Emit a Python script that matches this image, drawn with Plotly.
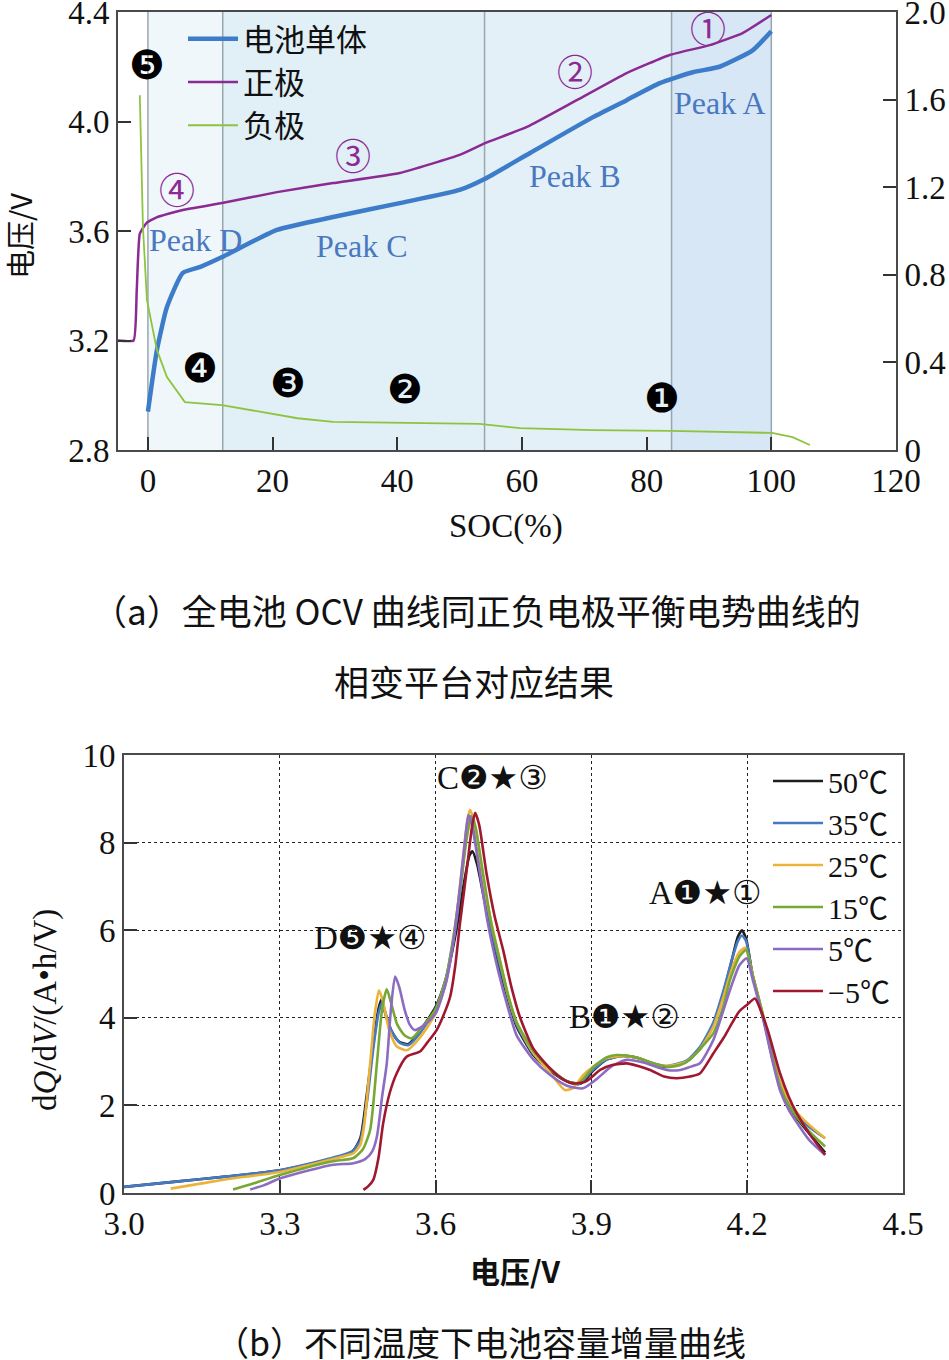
import plotly.graph_objects as go

# ---------------- (a) OCV vs SOC ----------------
soc_cell = [0, 1.44, 3.05, 5.6, 8.3, 11.9, 20.7, 29.7, 40.4, 50, 54, 61.3, 71.4, 76.8, 82.1, 87.4, 91.7, 97, 100]
v_cell = [2.94, 3.165, 3.322, 3.447, 3.468, 3.505, 3.604, 3.651, 3.702, 3.75, 3.79, 3.885, 4.016, 4.078, 4.14, 4.18, 4.2, 4.26, 4.33]

soc_pos = [-4.8, -2.3, -1.8, -1.3, -0.2, 1.4, 5.6, 11.9, 20.7, 29.7, 40.4, 50, 54, 60.8, 68.8, 76.8, 83.7, 90.1, 95.4, 100]
v_pos = [3.2, 3.2, 3.38, 3.59, 3.63, 3.65, 3.677, 3.702, 3.742, 3.775, 3.812, 3.878, 3.92, 3.98, 4.078, 4.177, 4.243, 4.279, 4.323, 4.389]

soc_neg = [-1.3, -0.96, -0.8, -0.16, 1.44, 3.05, 5.93, 11.87, 20.7, 24, 29.7, 40.4, 53.2, 59.7, 71.4, 83.7, 100.1, 103.4, 106.2]
v_neg = [1.62, 1.29, 1.02, 0.685, 0.457, 0.333, 0.219, 0.205, 0.16, 0.145, 0.128, 0.123, 0.119, 0.1, 0.091, 0.087, 0.078, 0.059, 0.023]

band_edges = [0, 12, 54, 84, 100]
band_colors = ["#eff7fb", "#e1eff7", "#e3f0f8", "#d7e7f6"]

x_ticks_a = [0, 20, 40, 60, 80, 100, 120]
y_ticks_a = [2.8, 3.2, 3.6, 4.0, 4.4]
y_ticklabels_a = ["2.8", "3.2", "3.6", "4.0", "4.4"]
y2_ticks_a = [0, 0.4, 0.8, 1.2, 1.6, 2.0]
y2_ticklabels_a = ["0", "0.4", "0.8", "1.2", "1.6", "2.0"]

# black filled markers (negative electrode stages)
neg_marks = ["❺", "❹", "❸", "❷", "❶"]
neg_mark_x = [-0.2, 8.3, 22.5, 41.2, 82.4]
neg_mark_y = [4.206, 3.10, 3.045, 3.023, 2.99]
# purple circled markers (positive electrode stages)
pos_marks = ["①", "②", "③", "④"]
pos_mark_x = [89.8, 68.5, 32.9, 4.65]
pos_mark_y = [4.345, 4.188, 3.881, 3.757]
# peak labels
peak_labels = ["Peak A", "Peak B", "Peak C", "Peak D"]
peak_x = [91.7, 68.5, 34.3, 7.6]
peak_y = [4.068, 3.80, 3.545, 3.567]

# ---------------- (b) dQ/dV vs V ----------------
temps = ["50℃", "35℃", "25℃", "15℃", "5℃", "−5℃"]
temp_colors = ["#1e1e1e", "#4479c4", "#ebb33a", "#78a834", "#8c6cc2", "#a01830"]

v_50 = [3.00, 3.10, 3.20, 3.30, 3.40, 3.44, 3.455, 3.467, 3.480, 3.490, 3.496, 3.503, 3.515, 3.530, 3.548, 3.570, 3.600, 3.620, 3.640, 3.655, 3.665, 3.671, 3.680, 3.692, 3.708, 3.724, 3.740, 3.756, 3.788, 3.820, 3.853, 3.880, 3.904, 3.930, 3.960, 3.990, 4.020, 4.045, 4.083, 4.110, 4.135, 4.155, 4.170, 4.182, 4.190, 4.198, 4.210, 4.231, 4.250, 4.263, 4.280, 4.295, 4.320, 4.350]
q_50 = [0.14, 0.26, 0.38, 0.52, 0.78, 0.95, 1.25, 2.2, 3.4, 4.2, 4.42, 4.1, 3.7, 3.45, 3.40, 3.7, 4.25, 4.9, 6.0, 7.1, 7.7, 7.8, 7.5, 6.8, 5.9, 5.1, 4.4, 3.8, 3.15, 2.80, 2.55, 2.50, 2.80, 3.05, 3.13, 3.08, 2.95, 2.88, 3.00, 3.30, 3.85, 4.60, 5.30, 5.85, 6.00, 5.80, 5.00, 4.00, 3.00, 2.45, 2.00, 1.72, 1.35, 0.92]

v_35 = [3.00, 3.10, 3.20, 3.30, 3.40, 3.44, 3.455, 3.468, 3.480, 3.490, 3.497, 3.505, 3.517, 3.532, 3.548, 3.570, 3.600, 3.620, 3.640, 3.652, 3.660, 3.667, 3.675, 3.690, 3.708, 3.724, 3.740, 3.756, 3.788, 3.820, 3.853, 3.875, 3.900, 3.930, 3.960, 3.990, 4.020, 4.045, 4.083, 4.110, 4.135, 4.155, 4.170, 4.182, 4.190, 4.198, 4.210, 4.231, 4.250, 4.263, 4.280, 4.295, 4.320, 4.350]
q_35 = [0.14, 0.26, 0.38, 0.52, 0.80, 0.96, 1.2, 2.1, 3.3, 4.1, 4.35, 4.05, 3.65, 3.42, 3.38, 3.65, 4.2, 4.9, 6.2, 7.4, 8.3, 8.6, 8.3, 7.2, 6.0, 5.2, 4.45, 3.85, 3.18, 2.82, 2.55, 2.48, 2.78, 3.05, 3.13, 3.08, 2.95, 2.90, 3.02, 3.35, 3.90, 4.65, 5.30, 5.75, 5.88, 5.75, 5.00, 4.02, 3.05, 2.50, 2.07, 1.80, 1.50, 1.25]

v_25 = [3.09, 3.15, 3.20, 3.30, 3.40, 3.442, 3.455, 3.462, 3.474, 3.483, 3.491, 3.498, 3.510, 3.525, 3.545, 3.570, 3.600, 3.620, 3.634, 3.645, 3.653, 3.660, 3.666, 3.674, 3.685, 3.700, 3.724, 3.740, 3.756, 3.788, 3.820, 3.849, 3.865, 3.885, 3.905, 3.930, 3.960, 3.990, 4.020, 4.045, 4.083, 4.110, 4.135, 4.155, 4.170, 4.185, 4.196, 4.210, 4.231, 4.250, 4.263, 4.280, 4.295, 4.320, 4.350]
q_25 = [0.10, 0.22, 0.32, 0.48, 0.77, 0.91, 1.1, 1.5, 2.96, 4.1, 4.63, 4.4, 3.75, 3.35, 3.26, 3.55, 4.1, 4.8, 5.78, 6.8, 7.68, 8.4, 8.75, 8.5, 7.7, 6.6, 5.3, 4.5, 3.9, 3.2, 2.75, 2.35, 2.40, 2.70, 2.90, 3.08, 3.13, 3.08, 2.95, 2.90, 3.00, 3.30, 3.80, 4.50, 5.10, 5.50, 5.60, 5.00, 4.05, 3.10, 2.55, 2.12, 1.85, 1.55, 1.25]

v_15 = [3.21, 3.25, 3.30, 3.40, 3.442, 3.460, 3.474, 3.487, 3.497, 3.506, 3.514, 3.526, 3.540, 3.554, 3.575, 3.600, 3.620, 3.635, 3.648, 3.660, 3.669, 3.677, 3.690, 3.708, 3.724, 3.740, 3.756, 3.788, 3.820, 3.853, 3.875, 3.904, 3.930, 3.949, 3.981, 4.015, 4.045, 4.071, 4.090, 4.110, 4.135, 4.155, 4.167, 4.185, 4.198, 4.210, 4.231, 4.250, 4.263, 4.280, 4.295, 4.320, 4.350]
q_15 = [0.08, 0.22, 0.41, 0.72, 0.80, 1.0, 1.44, 2.96, 4.2, 4.65, 4.35, 3.85, 3.6, 3.53, 3.8, 4.2, 4.9, 5.9, 7.0, 8.1, 8.6, 8.35, 7.4, 6.1, 5.3, 4.5, 3.9, 3.25, 2.85, 2.55, 2.50, 2.88, 3.10, 3.15, 3.11, 2.98, 2.88, 2.92, 3.05, 3.30, 3.65, 4.30, 4.87, 5.40, 5.55, 5.00, 4.03, 3.05, 2.45, 2.00, 1.74, 1.40, 1.06]

v_5 = [3.243, 3.27, 3.30, 3.40, 3.442, 3.465, 3.478, 3.487, 3.497, 3.506, 3.514, 3.522, 3.530, 3.540, 3.550, 3.560, 3.580, 3.600, 3.620, 3.635, 3.648, 3.658, 3.663, 3.670, 3.684, 3.700, 3.720, 3.740, 3.756, 3.788, 3.820, 3.853, 3.884, 3.910, 3.940, 3.968, 4.000, 4.045, 4.071, 4.090, 4.109, 4.135, 4.167, 4.185, 4.199, 4.210, 4.231, 4.250, 4.263, 4.280, 4.295, 4.320, 4.350]
q_5 = [0.08, 0.18, 0.33, 0.64, 0.68, 0.78, 0.95, 1.29, 2.2, 2.96, 4.2, 4.94, 4.7, 4.2, 3.85, 3.72, 3.85, 4.1, 4.8, 5.8, 7.1, 8.2, 8.63, 8.4, 7.4, 6.2, 5.1, 4.2, 3.6, 3.05, 2.70, 2.45, 2.39, 2.60, 2.90, 3.04, 2.98, 2.81, 2.81, 2.88, 2.96, 3.50, 4.64, 5.20, 5.36, 4.90, 3.95, 2.95, 2.35, 1.90, 1.62, 1.20, 0.87]

v_m5 = [3.461, 3.470, 3.480, 3.490, 3.499, 3.512, 3.525, 3.544, 3.570, 3.585, 3.602, 3.615, 3.628, 3.638, 3.647, 3.656, 3.663, 3.670, 3.676, 3.684, 3.698, 3.714, 3.730, 3.746, 3.762, 3.788, 3.820, 3.845, 3.865, 3.890, 3.917, 3.940, 3.968, 3.990, 4.013, 4.040, 4.064, 4.090, 4.109, 4.135, 4.155, 4.167, 4.185, 4.200, 4.215, 4.225, 4.240, 4.263, 4.280, 4.295, 4.320, 4.350]
q_m5 = [0.07, 0.15, 0.30, 0.80, 1.59, 2.3, 2.73, 3.11, 3.23, 3.45, 3.72, 4.05, 4.48, 5.2, 6.16, 7.0, 7.68, 8.35, 8.68, 8.4, 7.3, 6.3, 5.55, 4.7, 4.03, 3.3, 2.85, 2.60, 2.50, 2.55, 2.81, 2.92, 2.96, 2.90, 2.81, 2.66, 2.62, 2.66, 2.73, 3.19, 3.55, 3.80, 4.15, 4.30, 4.44, 4.20, 3.70, 2.74, 2.20, 1.83, 1.35, 0.87]

dqdv_v = [v_50, v_35, v_25, v_15, v_5, v_m5]
dqdv_q = [q_50, q_35, q_25, q_15, q_5, q_m5]

x_ticks_b = [3.0, 3.3, 3.6, 3.9, 4.2, 4.5]
x_ticklabels_b = ["3.0", "3.3", "3.6", "3.9", "4.2", "4.5"]
y_ticks_b = [0, 2, 4, 6, 8, 10]

peak_b_labels = ["C❷★③", "D❺★④", "B❶★②", "A❶★①"]
peak_b_x = [3.709, 3.474, 3.963, 4.119]
peak_b_y = [9.47, 5.82, 4.02, 6.85]

# ---------------- figure ----------------
SERIF = "Liberation Serif, DejaVu Serif, Noto Sans CJK SC"
CJK = "Noto Sans CJK SC"
W, H = 949, 1360


def PX(px):
    return px / W


def PY(py):
    return 1 - py / H


fig = go.Figure()

fig.add_trace(go.Scatter(x=soc_cell, y=v_cell, name="电池单体", mode="lines",
                         line=dict(color="#3d7cc9", width=4.5, shape="spline", smoothing=0.5),
                         xaxis="x", yaxis="y", legend="legend"))
fig.add_trace(go.Scatter(x=soc_pos, y=v_pos, name="正极", mode="lines",
                         line=dict(color="#8b2a92", width=2.5, shape="spline", smoothing=0.4),
                         xaxis="x", yaxis="y", legend="legend"))
fig.add_trace(go.Scatter(x=soc_neg, y=v_neg, name="负极", mode="lines",
                         line=dict(color="#8dc43e", width=1.8),
                         xaxis="x", yaxis="y2", legend="legend"))

for name, col, vv, qq in zip(temps, temp_colors, dqdv_v, dqdv_q):
    fig.add_trace(go.Scatter(x=vv, y=qq, name=name, mode="lines",
                             line=dict(color=col, width=2.6, shape="spline", smoothing=0.6),
                             xaxis="x2", yaxis="y3", legend="legend2"))

shapes = []
for i, col in enumerate(band_colors):
    shapes.append(dict(type="rect", xref="x", yref="y domain", x0=band_edges[i], x1=band_edges[i + 1],
                       y0=0, y1=1, fillcolor=col, line=dict(width=0), layer="below"))
for e in band_edges:
    shapes.append(dict(type="line", xref="x", yref="y domain", x0=e, x1=e, y0=0, y1=1,
                       line=dict(color="#98a6ae", width=1.5), layer="below"))

ann = []
for t, x, y in zip(neg_marks, neg_mark_x, neg_mark_y):
    ann.append(dict(text=t, x=x, y=y, xref="x", yref="y", showarrow=False,
                    font=dict(family="DejaVu Sans", size=40, color="#000")))
for t, x, y in zip(pos_marks, pos_mark_x, pos_mark_y):
    ann.append(dict(text=t, x=x, y=y, xref="x", yref="y", showarrow=False,
                    font=dict(family=CJK, size=36, color="#8b2a92")))
for t, x, y in zip(peak_labels, peak_x, peak_y):
    ann.append(dict(text=t, x=x, y=y, xref="x", yref="y", showarrow=False,
                    font=dict(family=SERIF, size=32, color="#4a78c0")))
for t, x, y in zip(peak_b_labels, peak_b_x, peak_b_y):
    ann.append(dict(text=t, x=x, y=y, xref="x2", yref="y3", showarrow=False,
                    font=dict(family="Liberation Serif, DejaVu Sans", size=33, color="#111")))


def paper_text(text, px, py, size, family, angle=0):
    return dict(text=text, x=PX(px), y=PY(py), xref="paper", yref="paper", showarrow=False,
                xanchor="center", yanchor="middle", textangle=angle,
                font=dict(family=family, size=size, color="#111"))


ann.append(paper_text("电压/V", 19, 236, 29, CJK, -90))
ann.append(paper_text("SOC(%)", 506, 527, 33, SERIF))
ann.append(paper_text("（a）全电池 OCV 曲线同正负电极平衡电势曲线的", 477, 609, 35, CJK))
ann.append(paper_text("相变平台对应结果", 474, 680, 35, CJK))
ann.append(paper_text("d<i>Q</i>/d<i>V</i>/(A•h/V)", 45, 1010, 33, SERIF, -90))
ann.append(paper_text("<b>电压/V</b>", 515, 1270, 30, CJK))
ann.append(paper_text("（b）不同温度下电池容量增量曲线", 480, 1341, 34, CJK))

axis_common = dict(showline=True, linecolor="#4a4a4a", linewidth=2, ticks="inside", ticklen=13,
                   tickwidth=1.5, tickcolor="#333", zeroline=False, automargin=False,
                   ticklabeloverflow="allow",
                   tickfont=dict(family=SERIF, size=33, color="#111"))

fig.update_layout(
    width=W, height=H, margin=dict(l=0, r=0, t=0, b=0, autoexpand=False),
    paper_bgcolor="white", plot_bgcolor="white",
    showlegend=True,
    xaxis=dict(domain=[PX(118), PX(896)], range=[-4.8, 120], tickvals=x_ticks_a, mirror=True,
               showgrid=False, anchor="y", **axis_common),
    yaxis=dict(domain=[PY(450), PY(12)], range=[2.8, 4.4], tickvals=y_ticks_a,
               ticktext=y_ticklabels_a, showgrid=False, anchor="x", **axis_common),
    yaxis2=dict(range=[0, 2.0], tickvals=y2_ticks_a, ticktext=y2_ticklabels_a, overlaying="y",
                side="right", showgrid=False, anchor="x", **axis_common),
    xaxis2=dict(domain=[PX(124), PX(903)], range=[3.0, 4.5], tickvals=x_ticks_b, ticktext=x_ticklabels_b,
                mirror=True, showgrid=True, gridcolor="#222", griddash="dot", gridwidth=1.3,
                anchor="y3", **axis_common),
    yaxis3=dict(domain=[PY(1193), PY(755)], range=[0, 10], tickvals=y_ticks_b, mirror=True,
                showgrid=True, gridcolor="#222", griddash="dot", gridwidth=1.3, anchor="x2", **axis_common),
    legend=dict(x=PX(183), y=PY(12), xanchor="left", yanchor="top", bgcolor="rgba(0,0,0,0)",
                font=dict(family=CJK, size=31, color="#111"), itemwidth=50, tracegroupgap=0),
    legend2=dict(x=PX(768), y=PY(755), xanchor="left", yanchor="top", bgcolor="rgba(255,255,255,0)",
                 font=dict(family="Liberation Serif, Noto Sans CJK SC", size=30, color="#111"),
                 itemwidth=50, tracegroupgap=0),
    shapes=shapes, annotations=ann,
)

fig.write_html("out.html", config={"displayModeBar": False},
               post_script="document.body.style.margin='0';document.body.style.padding='0';")
